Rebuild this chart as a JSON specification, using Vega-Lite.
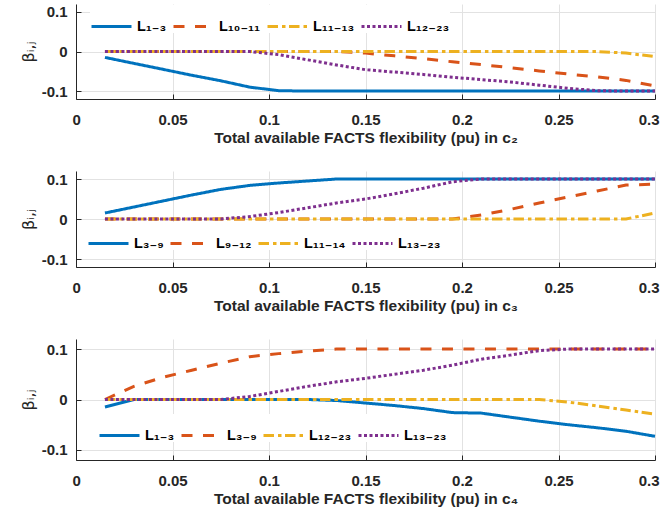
{
  "$schema": "https://vega.github.io/schema/vega-lite/v6.json",
  "padding": {"left": 20, "top": 4, "right": 0, "bottom": 0},
  "spacing": 25,
  "background": "white",
  "datasets": {
    "c2": [
      {"x":0.015,"y":-0.015,"s":"L₁₋₃"},{"x":0.03,"y":-0.03,"s":"L₁₋₃"},{"x":0.045,"y":-0.045,"s":"L₁₋₃"},{"x":0.06,"y":-0.06,"s":"L₁₋₃"},{"x":0.075,"y":-0.074,"s":"L₁₋₃"},{"x":0.09,"y":-0.09,"s":"L₁₋₃"},{"x":0.105,"y":-0.099,"s":"L₁₋₃"},{"x":0.12,"y":-0.1,"s":"L₁₋₃"},{"x":0.135,"y":-0.1,"s":"L₁₋₃"},{"x":0.15,"y":-0.1,"s":"L₁₋₃"},{"x":0.165,"y":-0.1,"s":"L₁₋₃"},{"x":0.18,"y":-0.1,"s":"L₁₋₃"},{"x":0.195,"y":-0.1,"s":"L₁₋₃"},{"x":0.21,"y":-0.1,"s":"L₁₋₃"},{"x":0.225,"y":-0.1,"s":"L₁₋₃"},{"x":0.24,"y":-0.1,"s":"L₁₋₃"},{"x":0.255,"y":-0.1,"s":"L₁₋₃"},{"x":0.27,"y":-0.1,"s":"L₁₋₃"},{"x":0.285,"y":-0.1,"s":"L₁₋₃"},{"x":0.3,"y":-0.1,"s":"L₁₋₃"},
      {"x":0.015,"y":0,"s":"L₁₀₋₁₁"},{"x":0.03,"y":0,"s":"L₁₀₋₁₁"},{"x":0.045,"y":0,"s":"L₁₀₋₁₁"},{"x":0.06,"y":0,"s":"L₁₀₋₁₁"},{"x":0.075,"y":0,"s":"L₁₀₋₁₁"},{"x":0.09,"y":0,"s":"L₁₀₋₁₁"},{"x":0.105,"y":0,"s":"L₁₀₋₁₁"},{"x":0.12,"y":0,"s":"L₁₀₋₁₁"},{"x":0.135,"y":0,"s":"L₁₀₋₁₁"},{"x":0.15,"y":-0.004,"s":"L₁₀₋₁₁"},{"x":0.165,"y":-0.011,"s":"L₁₀₋₁₁"},{"x":0.18,"y":-0.018,"s":"L₁₀₋₁₁"},{"x":0.195,"y":-0.026,"s":"L₁₀₋₁₁"},{"x":0.21,"y":-0.033,"s":"L₁₀₋₁₁"},{"x":0.225,"y":-0.041,"s":"L₁₀₋₁₁"},{"x":0.24,"y":-0.049,"s":"L₁₀₋₁₁"},{"x":0.255,"y":-0.057,"s":"L₁₀₋₁₁"},{"x":0.27,"y":-0.064,"s":"L₁₀₋₁₁"},{"x":0.285,"y":-0.073,"s":"L₁₀₋₁₁"},{"x":0.3,"y":-0.087,"s":"L₁₀₋₁₁"},
      {"x":0.015,"y":0,"s":"L₁₁₋₁₃"},{"x":0.03,"y":0,"s":"L₁₁₋₁₃"},{"x":0.045,"y":0,"s":"L₁₁₋₁₃"},{"x":0.06,"y":0,"s":"L₁₁₋₁₃"},{"x":0.075,"y":0,"s":"L₁₁₋₁₃"},{"x":0.09,"y":0,"s":"L₁₁₋₁₃"},{"x":0.105,"y":0,"s":"L₁₁₋₁₃"},{"x":0.12,"y":0,"s":"L₁₁₋₁₃"},{"x":0.135,"y":0,"s":"L₁₁₋₁₃"},{"x":0.15,"y":0,"s":"L₁₁₋₁₃"},{"x":0.165,"y":0,"s":"L₁₁₋₁₃"},{"x":0.18,"y":0,"s":"L₁₁₋₁₃"},{"x":0.195,"y":0,"s":"L₁₁₋₁₃"},{"x":0.21,"y":0,"s":"L₁₁₋₁₃"},{"x":0.225,"y":0,"s":"L₁₁₋₁₃"},{"x":0.24,"y":0,"s":"L₁₁₋₁₃"},{"x":0.255,"y":0,"s":"L₁₁₋₁₃"},{"x":0.27,"y":0,"s":"L₁₁₋₁₃"},{"x":0.285,"y":-0.004,"s":"L₁₁₋₁₃"},{"x":0.3,"y":-0.013,"s":"L₁₁₋₁₃"},
      {"x":0.015,"y":0,"s":"L₁₂₋₂₃"},{"x":0.03,"y":0,"s":"L₁₂₋₂₃"},{"x":0.045,"y":0,"s":"L₁₂₋₂₃"},{"x":0.06,"y":0,"s":"L₁₂₋₂₃"},{"x":0.075,"y":0,"s":"L₁₂₋₂₃"},{"x":0.09,"y":0,"s":"L₁₂₋₂₃"},{"x":0.105,"y":-0.008,"s":"L₁₂₋₂₃"},{"x":0.12,"y":-0.021,"s":"L₁₂₋₂₃"},{"x":0.135,"y":-0.034,"s":"L₁₂₋₂₃"},{"x":0.15,"y":-0.046,"s":"L₁₂₋₂₃"},{"x":0.165,"y":-0.052,"s":"L₁₂₋₂₃"},{"x":0.18,"y":-0.058,"s":"L₁₂₋₂₃"},{"x":0.195,"y":-0.065,"s":"L₁₂₋₂₃"},{"x":0.21,"y":-0.071,"s":"L₁₂₋₂₃"},{"x":0.225,"y":-0.077,"s":"L₁₂₋₂₃"},{"x":0.24,"y":-0.085,"s":"L₁₂₋₂₃"},{"x":0.255,"y":-0.093,"s":"L₁₂₋₂₃"},{"x":0.27,"y":-0.099,"s":"L₁₂₋₂₃"},{"x":0.285,"y":-0.1,"s":"L₁₂₋₂₃"},{"x":0.3,"y":-0.1,"s":"L₁₂₋₂₃"}
    ],
    "c3": [
      {"x":0.015,"y":0.015,"s":"L₃₋₉"},{"x":0.03,"y":0.03,"s":"L₃₋₉"},{"x":0.045,"y":0.045,"s":"L₃₋₉"},{"x":0.06,"y":0.06,"s":"L₃₋₉"},{"x":0.075,"y":0.074,"s":"L₃₋₉"},{"x":0.09,"y":0.084,"s":"L₃₋₉"},{"x":0.105,"y":0.09,"s":"L₃₋₉"},{"x":0.12,"y":0.095,"s":"L₃₋₉"},{"x":0.135,"y":0.1,"s":"L₃₋₉"},{"x":0.15,"y":0.1,"s":"L₃₋₉"},{"x":0.165,"y":0.1,"s":"L₃₋₉"},{"x":0.18,"y":0.1,"s":"L₃₋₉"},{"x":0.195,"y":0.1,"s":"L₃₋₉"},{"x":0.21,"y":0.1,"s":"L₃₋₉"},{"x":0.225,"y":0.1,"s":"L₃₋₉"},{"x":0.24,"y":0.1,"s":"L₃₋₉"},{"x":0.255,"y":0.1,"s":"L₃₋₉"},{"x":0.27,"y":0.1,"s":"L₃₋₉"},{"x":0.285,"y":0.1,"s":"L₃₋₉"},{"x":0.3,"y":0.1,"s":"L₃₋₉"},
      {"x":0.015,"y":0,"s":"L₉₋₁₂"},{"x":0.03,"y":0,"s":"L₉₋₁₂"},{"x":0.045,"y":0,"s":"L₉₋₁₂"},{"x":0.06,"y":0,"s":"L₉₋₁₂"},{"x":0.075,"y":0,"s":"L₉₋₁₂"},{"x":0.09,"y":0,"s":"L₉₋₁₂"},{"x":0.105,"y":0,"s":"L₉₋₁₂"},{"x":0.12,"y":0,"s":"L₉₋₁₂"},{"x":0.135,"y":0,"s":"L₉₋₁₂"},{"x":0.15,"y":0,"s":"L₉₋₁₂"},{"x":0.165,"y":0,"s":"L₉₋₁₂"},{"x":0.18,"y":0,"s":"L₉₋₁₂"},{"x":0.195,"y":0,"s":"L₉₋₁₂"},{"x":0.21,"y":0.01,"s":"L₉₋₁₂"},{"x":0.225,"y":0.024,"s":"L₉₋₁₂"},{"x":0.24,"y":0.04,"s":"L₉₋₁₂"},{"x":0.255,"y":0.055,"s":"L₉₋₁₂"},{"x":0.27,"y":0.07,"s":"L₉₋₁₂"},{"x":0.285,"y":0.085,"s":"L₉₋₁₂"},{"x":0.3,"y":0.087,"s":"L₉₋₁₂"},
      {"x":0.015,"y":0,"s":"L₁₁₋₁₄"},{"x":0.03,"y":0,"s":"L₁₁₋₁₄"},{"x":0.045,"y":0,"s":"L₁₁₋₁₄"},{"x":0.06,"y":0,"s":"L₁₁₋₁₄"},{"x":0.075,"y":0,"s":"L₁₁₋₁₄"},{"x":0.09,"y":0,"s":"L₁₁₋₁₄"},{"x":0.105,"y":0,"s":"L₁₁₋₁₄"},{"x":0.12,"y":0,"s":"L₁₁₋₁₄"},{"x":0.135,"y":0,"s":"L₁₁₋₁₄"},{"x":0.15,"y":0,"s":"L₁₁₋₁₄"},{"x":0.165,"y":0,"s":"L₁₁₋₁₄"},{"x":0.18,"y":0,"s":"L₁₁₋₁₄"},{"x":0.195,"y":0,"s":"L₁₁₋₁₄"},{"x":0.21,"y":0,"s":"L₁₁₋₁₄"},{"x":0.225,"y":0,"s":"L₁₁₋₁₄"},{"x":0.24,"y":0,"s":"L₁₁₋₁₄"},{"x":0.255,"y":0,"s":"L₁₁₋₁₄"},{"x":0.27,"y":0,"s":"L₁₁₋₁₄"},{"x":0.285,"y":0,"s":"L₁₁₋₁₄"},{"x":0.3,"y":0.015,"s":"L₁₁₋₁₄"},
      {"x":0.015,"y":0,"s":"L₁₃₋₂₃"},{"x":0.03,"y":0,"s":"L₁₃₋₂₃"},{"x":0.045,"y":0,"s":"L₁₃₋₂₃"},{"x":0.06,"y":0,"s":"L₁₃₋₂₃"},{"x":0.075,"y":0,"s":"L₁₃₋₂₃"},{"x":0.09,"y":0.006,"s":"L₁₃₋₂₃"},{"x":0.105,"y":0.016,"s":"L₁₃₋₂₃"},{"x":0.12,"y":0.028,"s":"L₁₃₋₂₃"},{"x":0.135,"y":0.04,"s":"L₁₃₋₂₃"},{"x":0.15,"y":0.05,"s":"L₁₃₋₂₃"},{"x":0.165,"y":0.063,"s":"L₁₃₋₂₃"},{"x":0.18,"y":0.077,"s":"L₁₃₋₂₃"},{"x":0.195,"y":0.093,"s":"L₁₃₋₂₃"},{"x":0.21,"y":0.1,"s":"L₁₃₋₂₃"},{"x":0.225,"y":0.1,"s":"L₁₃₋₂₃"},{"x":0.24,"y":0.1,"s":"L₁₃₋₂₃"},{"x":0.255,"y":0.1,"s":"L₁₃₋₂₃"},{"x":0.27,"y":0.1,"s":"L₁₃₋₂₃"},{"x":0.285,"y":0.1,"s":"L₁₃₋₂₃"},{"x":0.3,"y":0.1,"s":"L₁₃₋₂₃"}
    ],
    "c4": [
      {"x":0.015,"y":-0.015,"s":"L₁₋₃"},{"x":0.03,"y":0,"s":"L₁₋₃"},{"x":0.045,"y":0,"s":"L₁₋₃"},{"x":0.06,"y":0,"s":"L₁₋₃"},{"x":0.075,"y":0,"s":"L₁₋₃"},{"x":0.09,"y":0,"s":"L₁₋₃"},{"x":0.105,"y":0,"s":"L₁₋₃"},{"x":0.12,"y":0,"s":"L₁₋₃"},{"x":0.135,"y":-0.002,"s":"L₁₋₃"},{"x":0.15,"y":-0.007,"s":"L₁₋₃"},{"x":0.165,"y":-0.012,"s":"L₁₋₃"},{"x":0.18,"y":-0.018,"s":"L₁₋₃"},{"x":0.195,"y":-0.026,"s":"L₁₋₃"},{"x":0.21,"y":-0.027,"s":"L₁₋₃"},{"x":0.225,"y":-0.035,"s":"L₁₋₃"},{"x":0.24,"y":-0.043,"s":"L₁₋₃"},{"x":0.255,"y":-0.05,"s":"L₁₋₃"},{"x":0.27,"y":-0.056,"s":"L₁₋₃"},{"x":0.285,"y":-0.063,"s":"L₁₋₃"},{"x":0.3,"y":-0.073,"s":"L₁₋₃"},
      {"x":0.015,"y":0,"s":"L₃₋₉"},{"x":0.03,"y":0.026,"s":"L₃₋₉"},{"x":0.045,"y":0.044,"s":"L₃₋₉"},{"x":0.06,"y":0.058,"s":"L₃₋₉"},{"x":0.075,"y":0.072,"s":"L₃₋₉"},{"x":0.09,"y":0.085,"s":"L₃₋₉"},{"x":0.105,"y":0.091,"s":"L₃₋₉"},{"x":0.12,"y":0.096,"s":"L₃₋₉"},{"x":0.135,"y":0.1,"s":"L₃₋₉"},{"x":0.15,"y":0.1,"s":"L₃₋₉"},{"x":0.165,"y":0.1,"s":"L₃₋₉"},{"x":0.18,"y":0.1,"s":"L₃₋₉"},{"x":0.195,"y":0.1,"s":"L₃₋₉"},{"x":0.21,"y":0.1,"s":"L₃₋₉"},{"x":0.225,"y":0.1,"s":"L₃₋₉"},{"x":0.24,"y":0.1,"s":"L₃₋₉"},{"x":0.255,"y":0.1,"s":"L₃₋₉"},{"x":0.27,"y":0.1,"s":"L₃₋₉"},{"x":0.285,"y":0.1,"s":"L₃₋₉"},{"x":0.3,"y":0.1,"s":"L₃₋₉"},
      {"x":0.015,"y":0,"s":"L₁₂₋₂₃"},{"x":0.03,"y":0,"s":"L₁₂₋₂₃"},{"x":0.045,"y":0,"s":"L₁₂₋₂₃"},{"x":0.06,"y":0,"s":"L₁₂₋₂₃"},{"x":0.075,"y":0,"s":"L₁₂₋₂₃"},{"x":0.09,"y":0,"s":"L₁₂₋₂₃"},{"x":0.105,"y":0,"s":"L₁₂₋₂₃"},{"x":0.12,"y":0,"s":"L₁₂₋₂₃"},{"x":0.135,"y":0,"s":"L₁₂₋₂₃"},{"x":0.15,"y":0,"s":"L₁₂₋₂₃"},{"x":0.165,"y":0,"s":"L₁₂₋₂₃"},{"x":0.18,"y":0,"s":"L₁₂₋₂₃"},{"x":0.195,"y":0,"s":"L₁₂₋₂₃"},{"x":0.21,"y":0,"s":"L₁₂₋₂₃"},{"x":0.225,"y":0,"s":"L₁₂₋₂₃"},{"x":0.24,"y":0,"s":"L₁₂₋₂₃"},{"x":0.255,"y":-0.005,"s":"L₁₂₋₂₃"},{"x":0.27,"y":-0.013,"s":"L₁₂₋₂₃"},{"x":0.285,"y":-0.021,"s":"L₁₂₋₂₃"},{"x":0.3,"y":-0.029,"s":"L₁₂₋₂₃"},
      {"x":0.015,"y":0,"s":"L₁₃₋₂₃"},{"x":0.03,"y":0,"s":"L₁₃₋₂₃"},{"x":0.045,"y":0,"s":"L₁₃₋₂₃"},{"x":0.06,"y":0,"s":"L₁₃₋₂₃"},{"x":0.075,"y":0,"s":"L₁₃₋₂₃"},{"x":0.09,"y":0.006,"s":"L₁₃₋₂₃"},{"x":0.105,"y":0.016,"s":"L₁₃₋₂₃"},{"x":0.12,"y":0.026,"s":"L₁₃₋₂₃"},{"x":0.135,"y":0.035,"s":"L₁₃₋₂₃"},{"x":0.15,"y":0.042,"s":"L₁₃₋₂₃"},{"x":0.165,"y":0.05,"s":"L₁₃₋₂₃"},{"x":0.18,"y":0.058,"s":"L₁₃₋₂₃"},{"x":0.195,"y":0.068,"s":"L₁₃₋₂₃"},{"x":0.21,"y":0.08,"s":"L₁₃₋₂₃"},{"x":0.225,"y":0.088,"s":"L₁₃₋₂₃"},{"x":0.24,"y":0.097,"s":"L₁₃₋₂₃"},{"x":0.255,"y":0.1,"s":"L₁₃₋₂₃"},{"x":0.27,"y":0.1,"s":"L₁₃₋₂₃"},{"x":0.285,"y":0.1,"s":"L₁₃₋₂₃"},{"x":0.3,"y":0.1,"s":"L₁₃₋₂₃"}
    ]
  },
  "vconcat": [
    {
      "width": 579, "height": 95,
      "data": {"name": "c2"},
      "mark": {"type": "line", "strokeWidth": 3, "strokeCap": "butt"},
      "encoding": {
        "x": {"field": "x", "type": "quantitative", "scale": {"domain": [0, 0.3], "nice": false}, "axis": {"values": [0, 0.05, 0.1, 0.15, 0.2, 0.25, 0.3], "format": "~g", "title": "Total available FACTS flexibility (pu) in  c₂"}},
        "y": {"field": "y", "type": "quantitative", "scale": {"domain": [-0.12, 0.12], "nice": false}, "axis": {"values": [-0.1, 0, 0.1], "labelExpr": "datum.value == 0 ? '0' : (datum.value > 0 ? '0.1' : '-0.1')", "title": "βᵢ,ⱼ"}},
        "color": {"field": "s", "type": "nominal", "sort": null, "scale": {"domain": ["L₁₋₃", "L₁₀₋₁₁", "L₁₁₋₁₃", "L₁₂₋₂₃"], "range": ["#0072BD", "#D95319", "#EDB120", "#7E2F8E"]}, "legend": {"legendX": 14, "legendY": 1}},
        "strokeDash": {"field": "s", "type": "nominal", "sort": null, "scale": {"domain": ["L₁₋₃", "L₁₀₋₁₁", "L₁₁₋₁₃", "L₁₂₋₂₃"], "range": [[1, 0], [11, 10.5], [10.5, 4, 3.5, 3.5], [3, 2.5]]}, "legend": {"legendX": 14, "legendY": 1}}
      }
    },
    {
      "width": 579, "height": 96,
      "data": {"name": "c3"},
      "mark": {"type": "line", "strokeWidth": 3, "strokeCap": "butt"},
      "encoding": {
        "x": {"field": "x", "type": "quantitative", "scale": {"domain": [0, 0.3], "nice": false}, "axis": {"values": [0, 0.05, 0.1, 0.15, 0.2, 0.25, 0.3], "format": "~g", "title": "Total available FACTS flexibility (pu) in  c₃"}},
        "y": {"field": "y", "type": "quantitative", "scale": {"domain": [-0.12, 0.12], "nice": false}, "axis": {"values": [-0.1, 0, 0.1], "labelExpr": "datum.value == 0 ? '0' : (datum.value > 0 ? '0.1' : '-0.1')", "title": "βᵢ,ⱼ"}},
        "color": {"field": "s", "type": "nominal", "sort": null, "scale": {"domain": ["L₃₋₉", "L₉₋₁₂", "L₁₁₋₁₄", "L₁₃₋₂₃"], "range": ["#0072BD", "#D95319", "#EDB120", "#7E2F8E"]}, "legend": {"legendX": 11, "legendY": 51}},
        "strokeDash": {"field": "s", "type": "nominal", "sort": null, "scale": {"domain": ["L₃₋₉", "L₉₋₁₂", "L₁₁₋₁₄", "L₁₃₋₂₃"], "range": [[1, 0], [11, 10.5], [10.5, 4, 3.5, 3.5], [3, 2.5]]}, "legend": {"legendX": 11, "legendY": 51}}
      }
    },
    {
      "width": 579, "height": 121,
      "data": {"name": "c4"},
      "mark": {"type": "line", "strokeWidth": 3, "strokeCap": "butt"},
      "encoding": {
        "x": {"field": "x", "type": "quantitative", "scale": {"domain": [0, 0.3], "nice": false}, "axis": {"values": [0, 0.05, 0.1, 0.15, 0.2, 0.25, 0.3], "format": "~g", "title": "Total available FACTS flexibility (pu) in  c₄"}},
        "y": {"field": "y", "type": "quantitative", "scale": {"domain": [-0.12, 0.12], "nice": false}, "axis": {"values": [-0.1, 0, 0.1], "labelExpr": "datum.value == 0 ? '0' : (datum.value > 0 ? '0.1' : '-0.1')", "title": "βᵢ,ⱼ"}},
        "color": {"field": "s", "type": "nominal", "sort": null, "scale": {"domain": ["L₁₋₃", "L₃₋₉", "L₁₂₋₂₃", "L₁₃₋₂₃"], "range": ["#0072BD", "#D95319", "#EDB120", "#7E2F8E"]}, "legend": {"legendX": 22, "legendY": 75}},
        "strokeDash": {"field": "s", "type": "nominal", "sort": null, "scale": {"domain": ["L₁₋₃", "L₃₋₉", "L₁₂₋₂₃", "L₁₃₋₂₃"], "range": [[1, 0], [11, 10.5], [10.5, 4, 3.5, 3.5], [3, 2.5]]}, "legend": {"legendX": 22, "legendY": 75}}
      }
    }
  ],
  "resolve": {"scale": {"color": "independent", "strokeDash": "independent"}, "legend": {"color": "independent", "strokeDash": "independent"}},
  "config": {
    "view": {"stroke": null},
    "axis": {
      "grid": true, "gridColor": "#e2e2e2", "gridWidth": 1,
      "domainColor": "#262626", "domainWidth": 1,
      "ticks": true, "tickColor": "#262626", "tickSize": -5, "tickWidth": 1,
      "labelFont": "Liberation Sans", "labelFontWeight": "bold", "labelFontSize": 15, "labelColor": "#262626",
      "titleFont": "Liberation Sans, DejaVu Sans", "titleFontWeight": "bold", "titleFontSize": 15.5, "titleColor": "#262626"
    },
    "axisX": {"labelPadding": 18, "minExtent": 28, "maxExtent": 28, "titlePadding": 3.5, "labelFlush": true, "labelFlushOffset": 4},
    "axisY": {"labelPadding": 14, "minExtent": 36, "maxExtent": 36, "titlePadding": 4, "labelFlush": false, "titleFont": "DejaVu Sans", "titleFontWeight": "normal", "titleFontSize": 16},
    "legend": {
      "orient": "none", "direction": "horizontal", "title": null,
      "fillColor": "white", "padding": 0,
      "symbolType": "stroke", "symbolSize": 1600, "symbolStrokeWidth": 3,
      "labelFont": "Liberation Sans, DejaVu Sans", "labelFontWeight": "bold", "labelFontSize": 14.5, "labelColor": "black",
      "labelOffset": 4, "columnPadding": 0
    }
  }
}
